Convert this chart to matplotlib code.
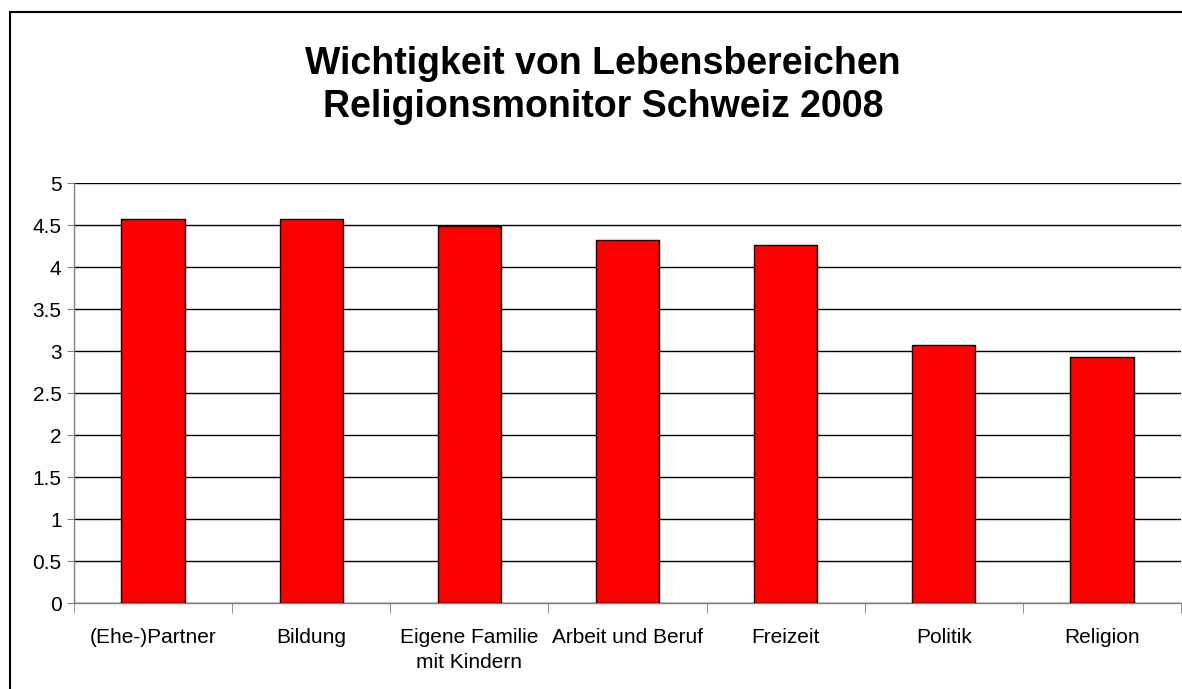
import matplotlib
matplotlib.use("Agg")
import matplotlib.pyplot as plt
from matplotlib.patches import Rectangle
import numpy as np

# data
categories = ["(Ehe-)Partner", "Bildung", "Eigene Familie\nmit Kindern", "Arbeit und Beruf",
              "Freizeit", "Politik", "Religion"]
values = [4.58, 4.57, 4.49, 4.33, 4.26, 3.08, 2.93]
y_ticks = [0, 0.5, 1, 1.5, 2, 2.5, 3, 3.5, 4, 4.5, 5]
y_tick_labels = ["0", "0.5", "1", "1.5", "2", "2.5", "3", "3.5", "4", "4.5", "5"]
title = "Wichtigkeit von Lebensbereichen\nReligionsmonitor Schweiz 2008"

plt.rcParams['font.family'] = ['Liberation Sans', 'DejaVu Sans']

W, H = 1182, 689
fig = plt.figure(figsize=(W / 100, H / 100), dpi=100)
ax = fig.add_axes([74 / W, 1 - 603.3 / H, (1181 - 74) / W, (603.3 - 183.3) / H])

x = np.arange(len(categories))
ax.bar(x, values, width=0.4, color="#FF0000", edgecolor="black", linewidth=1, zorder=3)

ax.set_xlim(-0.5, len(categories) - 0.5)
ax.set_ylim(0, 5)
ax.set_yticks(y_ticks)
ax.set_yticklabels(y_tick_labels, fontsize=15)

# category labels in the middle, tick marks on the boundaries
ax.set_xticks(x)
ax.set_xticklabels(categories, fontsize=15, linespacing=1.37, va="top")
ax.tick_params(axis="x", which="major", length=0, pad=18)
ax.set_xticks(np.arange(len(categories) + 1) - 0.5, minor=True)
ax.tick_params(axis="x", which="minor", length=7, color="#808080", direction="out")
ax.tick_params(axis="y", length=5, color="#808080", direction="out", pad=4)

ax.yaxis.grid(True, color="black", linewidth=1, zorder=0)
ax.set_axisbelow(True)
for s in ["top", "right"]:
    ax.spines[s].set_visible(False)
for s in ["left", "bottom"]:
    ax.spines[s].set_color("#808080")
    ax.spines[s].set_linewidth(1)

fig.text(603 / W, 1 - 85.5 / H, title, ha="center", va="center", fontsize=27,
         fontweight="bold", linespacing=1.24)

# outer chart border (open on right and bottom, like the crop)
fig.patches.append(Rectangle((10 / W, -0.1), 1.2, 1.1 - 12 / H, transform=fig.transFigure,
                             fill=False, edgecolor="black", linewidth=1.5))

fig.savefig("out.png", dpi=100)
